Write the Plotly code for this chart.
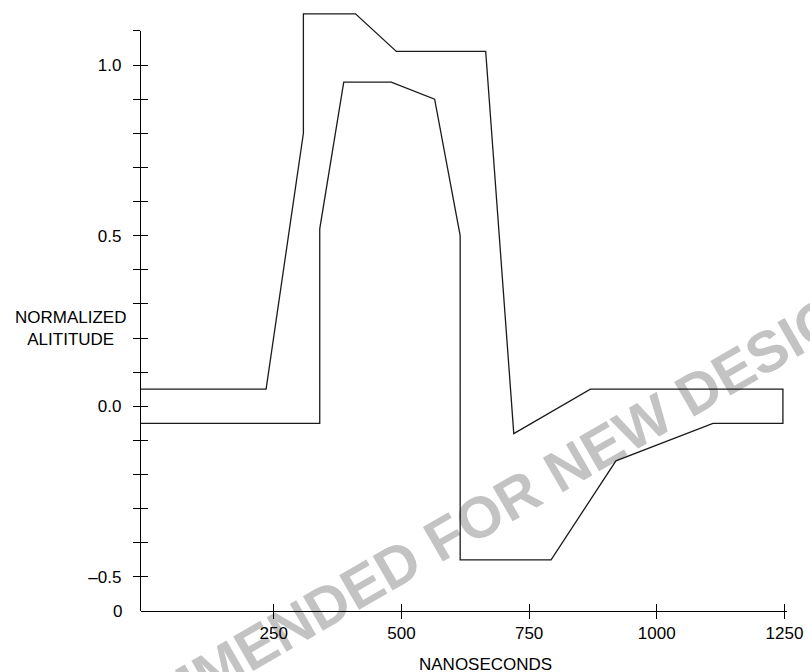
import plotly.graph_objects as go

# ---- data ----
upper_x = [-10, 235, 308, 308, 410, 490, 665, 720, 870, 1247]
upper_y = [0.05, 0.05, 0.80, 1.15, 1.15, 1.04, 1.04, -0.08, 0.05, 0.05]
lower_x = [-10, 340, 340, 387, 480, 565, 615, 615, 793, 920, 1110, 1247]
lower_y = [-0.05, -0.05, 0.52, 0.95, 0.95, 0.90, 0.50, -0.45, -0.45, -0.16, -0.05, -0.05]

x_tick_vals = [250, 500, 750, 1000, 1250]
x_tick_text = ["250", "500", "750", "1000", "1250"]
y_tick_vals = [-0.5, -0.4, -0.3, -0.2, -0.1, 0.0, 0.1, 0.2, 0.3, 0.4, 0.5,
               0.6, 0.7, 0.8, 0.9, 1.0, 1.1]
y_tick_text = ["–0.5", "", "", "", "", "0.0", "", "", "", "", "0.5",
               "", "", "", "", "1.0", ""]

x_range = [-10, 1255]
y_bottom = -0.6
y_axis_top = 1.1
y_data_top = 1.17

x_title = "NANOSECONDS"
y_title = "NORMALIZED<br>ALITITUDE"
origin_label = "0"
watermark = "NOT RECOMMENDED FOR NEW DESIGNS"

FONT = "Liberation Sans, Arial, sans-serif"
LINE = "#1a1a1a"

# closed mask outline: upper edge, then lower edge back to the left
path_x = upper_x + lower_x[::-1]
path_y = upper_y + lower_y[::-1]

fig = go.Figure()
fig.add_trace(go.Scatter(x=path_x, y=path_y, mode="lines",
                         line=dict(color=LINE, width=1.3),
                         showlegend=False, hoverinfo="skip"))
# helper (invisible) traces so the decorative axes are drawn
for xa, ya in [("x", "y2"), ("x", "y3"), ("x2", "y")]:
    fig.add_trace(go.Scatter(x=[0], y=[0], xaxis=xa, yaxis=ya, mode="markers",
                             marker=dict(opacity=0), showlegend=False,
                             hoverinfo="skip"))

d_top = (y_axis_top - y_bottom) / (y_data_top - y_bottom)

fig.update_layout(
    width=810, height=672,
    margin=dict(l=141, r=20, t=7, b=61),
    paper_bgcolor="white", plot_bgcolor="rgba(0,0,0,0)",
    font=dict(family=FONT, size=17, color="black"),
    xaxis=dict(range=x_range, showgrid=False, zeroline=False,
               showline=True, linecolor="black", linewidth=1.3,
               ticks="outside", ticklen=7, tickwidth=1.3, tickcolor="black",
               tickvals=x_tick_vals, ticktext=x_tick_text,
               ticklabelstandoff=-1),
    xaxis2=dict(range=x_range, overlaying="x", anchor="y", showgrid=False,
                zeroline=False, showline=False, ticks="inside", ticklen=7,
                tickwidth=1.3, tickcolor="black", tickvals=x_tick_vals,
                showticklabels=False),
    yaxis=dict(range=[y_bottom, y_data_top], showgrid=False, zeroline=False,
               showline=False, ticks="", showticklabels=False),
    yaxis2=dict(range=[y_bottom, y_axis_top], domain=[0, d_top], anchor="x",
                showgrid=False, zeroline=False, showline=True,
                linecolor="black", linewidth=1.3, ticks="outside", ticklen=7,
                tickwidth=1.3, tickcolor="black", tickvals=y_tick_vals,
                ticktext=y_tick_text, ticklabelstandoff=8),
    yaxis3=dict(range=[y_bottom, y_axis_top], overlaying="y2", anchor="x",
                showgrid=False, zeroline=False, showline=False,
                ticks="inside", ticklen=7, tickwidth=1.3, tickcolor="black",
                tickvals=y_tick_vals, showticklabels=False),
)

fig.add_annotation(text=x_title, xref="paper", yref="paper", x=0.534, y=0,
                   yshift=-53, xanchor="center", yanchor="middle",
                   showarrow=False, font=dict(size=17))
fig.add_annotation(text=y_title, xref="paper", yref="paper", x=0, y=0.468,
                   xshift=-71, xanchor="center", yanchor="middle",
                   showarrow=False, font=dict(size=17))
fig.add_annotation(text=origin_label, xref="paper", yref="paper", x=0, y=0,
                   xshift=-17, xanchor="right", yanchor="middle",
                   showarrow=False, font=dict(size=17))

cx, cy = 0.395, 0.086
fig.add_shape(type="line", xref="paper", yref="paper",
              x0=cx - 0.001, x1=cx + 0.001, y0=cy, y1=cy,
              line=dict(width=0), layer="below",
              label=dict(text=watermark, textangle=-30,
                         textposition="middle", yanchor="middle",
                         font=dict(family=FONT, size=58, color="#c3c3c3",
                                   weight="bold")))

fig.write_html("out.html", post_script="document.body.style.margin='0';",
               config={"displayModeBar": False})
